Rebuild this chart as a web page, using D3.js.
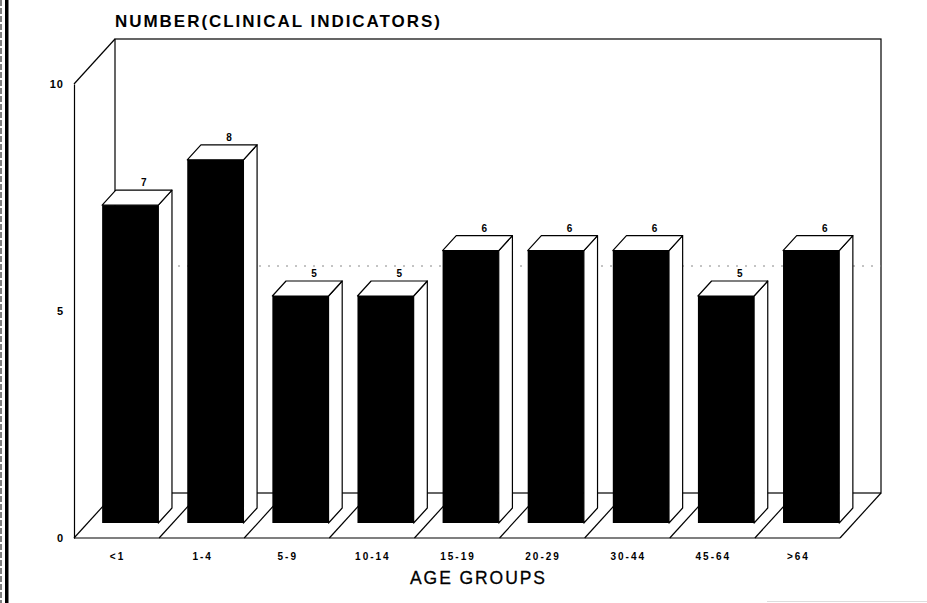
<!DOCTYPE html>
<html>
<head>
<meta charset="utf-8">
<script src="https://cdn.jsdelivr.net/npm/d3@7"></script>
<style>
  body { margin: 0; background: #fff; }
  svg { display: block; }
  text { font-family: "Liberation Sans", Arial, sans-serif; fill: #000; }
</style>
</head>
<body>
<svg width="927" height="603"></svg>
<script>
const ageGroups = ["<1", "1-4", "5-9", "10-14", "15-19", "20-29", "30-44", "45-64", ">64"];
const nbIndicators = [7, 8, 5, 5, 6, 6, 6, 5, 6];
const yTicks = [0, 5, 10];

const data = ageGroups.map((g, i) => ({ groupe: g, valeur: nbIndicators[i] }));

const svg = d3.select("svg");

// cadre du "plancher" avant et profondeur de la boite 3D
const x0 = 74, x1 = 840;
const y0 = 538, y10 = 84;
const depthX = 41, depthY = -45;

const x = d3.scaleBand()
    .domain(ageGroups)
    .range([x0, x1])
    .paddingInner(0.34)
    .paddingOuter(0.17);

const y = d3.scaleLinear()
    .domain([0, 10])
    .range([y0, y10]);

const step = x.step();
const line = (g, a, b, c, d) => g.append("line")
    .attr("x1", a).attr("y1", b).attr("x2", c).attr("y2", d)
    .attr("stroke", "#000").attr("stroke-width", 1.2);

// bordure gauche de la page scannée
svg.append("rect").attr("x", 5).attr("y", 0).attr("width", 3.5).attr("height", 603).attr("fill", "#000");
svg.append("line").attr("x1", 1).attr("y1", 0).attr("x2", 1).attr("y2", 603)
    .attr("stroke", "#000").attr("stroke-width", 1).attr("stroke-dasharray", "6 2");
svg.append("line").attr("x1", 767).attr("y1", 601.5).attr("x2", 927).attr("y2", 601.5)
    .attr("stroke", "#ddd").attr("stroke-width", 1);

const boite = svg.append("g");

// mur du fond
boite.append("rect")
    .attr("x", x0 + depthX).attr("y", y(10) + depthY)
    .attr("width", x1 - x0).attr("height", y(0) - y(10))
    .attr("fill", "#fff").attr("stroke", "#000").attr("stroke-width", 1.2);

// quadrillage pointillé à 5 (mur du fond)
boite.append("line")
    .attr("x1", x0 + depthX).attr("x2", x1 + depthX)
    .attr("y1", y(5) + depthY).attr("y2", y(5) + depthY)
    .attr("stroke", "#888").attr("stroke-width", 1).attr("stroke-dasharray", "2 7");

// mur de gauche
line(boite, x0, y(10), x0 + depthX, y(10) + depthY);

// plancher : ligne avant et séparations
line(boite, x0, y(0), x1, y(0));
for (let i = 0; i <= ageGroups.length; i++) {
    const xi = x0 + i * step;
    line(boite, xi, y(0), xi + depthX, y(0) + depthY);
}

// axe vertical (avant gauche)
const axe = svg.append("g")
    .attr("transform", `translate(${x0},0)`)
    .call(d3.axisLeft(y).tickValues(yTicks).tickSize(0).tickPadding(10).tickFormat(d3.format("d")));
axe.select(".domain").attr("stroke", "#000").attr("stroke-width", 1.2);
axe.selectAll("text")
    .style("font-family", "'Liberation Sans', Arial, sans-serif")
    .style("font-size", "11px")
    .style("font-weight", "bold")
    .style("letter-spacing", "1px");

// barres 3D
const tFront = 1 / 3, tBack = 2 / 3;
const fdx = depthX * tFront, fdy = depthY * tFront;
const bdx = depthX * tBack, bdy = depthY * tBack;

const barres = svg.selectAll("g.barre")
    .data(data)
    .enter()
    .append("g")
    .attr("class", "barre");

barres.append("path")
    .attr("d", d => {
        const xl = x(d.groupe), xr = xl + x.bandwidth();
        const yt = y(d.valeur), yb = y(0);
        return `M${xr + fdx},${yt + fdy} L${xr + bdx},${yt + bdy} L${xr + bdx},${yb + bdy} L${xr + fdx},${yb + fdy} Z`;
    })
    .attr("fill", "#fff").attr("stroke", "#000").attr("stroke-width", 1.2).attr("stroke-linejoin", "round");

barres.append("path")
    .attr("d", d => {
        const xl = x(d.groupe), xr = xl + x.bandwidth();
        const yt = y(d.valeur);
        return `M${xl + fdx},${yt + fdy} L${xl + bdx},${yt + bdy} L${xr + bdx},${yt + bdy} L${xr + fdx},${yt + fdy} Z`;
    })
    .attr("fill", "#fff").attr("stroke", "#000").attr("stroke-width", 1.2).attr("stroke-linejoin", "round");

barres.append("rect")
    .attr("x", d => x(d.groupe) + fdx)
    .attr("y", d => y(d.valeur) + fdy)
    .attr("width", x.bandwidth())
    .attr("height", d => y(0) - y(d.valeur))
    .attr("fill", "#000");

barres.append("text")
    .attr("x", d => x(d.groupe) + bdx + x.bandwidth() / 2)
    .attr("y", d => y(d.valeur) + bdy - 4)
    .attr("text-anchor", "middle")
    .style("font-size", "10px")
    .style("font-weight", "bold")
    .text(d => d.valeur);

// étiquettes des groupes d'âge
svg.append("g")
    .selectAll("text")
    .data(ageGroups)
    .enter()
    .append("text")
    .attr("x", d => x(d) + x.bandwidth() / 2 + 1)
    .attr("y", 560)
    .attr("text-anchor", "middle")
    .style("font-size", "10px")
    .style("font-weight", "bold")
    .style("letter-spacing", "2px")
    .text(d => d);

// titres
svg.append("text")
    .attr("x", 115)
    .attr("y", 27)
    .attr("textLength", 325)
    .attr("lengthAdjust", "spacing")
    .style("font-size", "17px")
    .style("font-weight", "bold")
    .text("NUMBER(CLINICAL INDICATORS)");

svg.append("text")
    .attr("x", 410)
    .attr("y", 584)
    .attr("textLength", 135)
    .attr("lengthAdjust", "spacing")
    .style("font-size", "17.5px")
    .style("stroke", "#000")
    .style("stroke-width", 0.3)
    .text("AGE GROUPS");
</script>
</body>
</html>
